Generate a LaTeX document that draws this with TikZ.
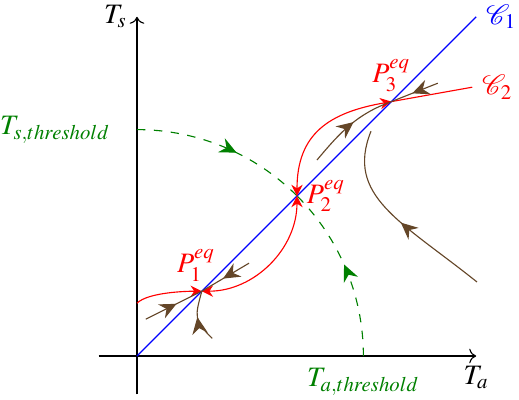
\documentclass[tikz,border=0pt]{standalone}
\usepackage{mathptmx}
\usepackage{mathrsfs}
\usepackage{xcolor}
\usepackage{tikz}
\usetikzlibrary{positioning,arrows.meta,decorations.markings,calc}

\definecolor{trajcol}{RGB}{100,70,40}
\definecolor{thrcol}{RGB}{0,128,0}

\begin{document}
\begin{tikzpicture}[
    axis/.style={->,thin,black},
    diag/.style={blue,thin},
    crit/.style={red,thin},
    traj/.style={trajcol,thin},
    thr/.style={thrcol,dashed,thin},
    midarrow/.style={postaction={decorate,decoration={markings,mark=at position #1 with {\arrow{Stealth[length=6pt,width=5.5pt,inset=2pt]}}}}}
]
\useasboundingbox (-1.7125,-0.5375) rectangle (4.775,4.45);

% ============== POINTS ==============
\coordinate (origin) at (0,0);
\coordinate (xstart) at (-0.48,0);
\coordinate (xend) at (4.24,0);
\coordinate (ystart) at (0,-0.48);
\coordinate (yend) at (0,4.24);
\coordinate (cOneEnd) at (4.24,4.24);
\coordinate (cTwoStart) at (0,0.66);
\coordinate (cTwoEnd) at (4.19,3.36);
\coordinate (p1) at (0.81,0.81);
\coordinate (p2) at (2,2);
\coordinate (p3) at (3.18,3.18);
\coordinate (tsThr) at (0,2.83);
\coordinate (taThr) at (2.83,0);

% ============== AXES ==============
\draw[axis] (xstart) -- (xend) node[below] (taLabel) {$T_a$};
\draw[axis] (ystart) -- (yend) node[left] (tsLabel) {$T_s$};

% ============== C1 ==============
\draw[diag] (origin) -- (cOneEnd) node[right] (cOne) {$\mathscr{C}_1$};

% ============== THRESHOLDS ==============
\node[thrcol,left=6pt of tsThr] (tsThrLabel) {$T_{s,threshold}$};
\node[thrcol,below=1pt of taThr] (taThrLabel) {$T_{a,threshold}$};
\draw[thr,midarrow=0.58] (tsThr) arc[start angle=90,end angle=45,radius=2.83];
\draw[thr,midarrow=0.53] (taThr) arc[start angle=0,end angle=45,radius=2.83];

% ============== C2 ==============
\draw[crit,-{Stealth[length=4pt,width=4pt]}] (cTwoStart) to[out=45,in=180,looseness=0.6] (p1);
\draw[crit,{Stealth[length=4pt,width=4pt]}-{Stealth[length=4pt,width=4pt]}] (p1) to[out=0,in=-90] (p2);
\draw[crit,{Stealth[length=4pt,width=4pt]}-{Stealth[length=4pt,width=4pt]}] (p2) to[out=90,in=190,looseness=1.2] (p3);
\draw[crit] (p3) -- (cTwoEnd) node[right] (cTwo) {$\mathscr{C}_2$};

% equilibrium labels
\node[red,above,xshift=-2pt] (p1Label) at (p1) {$P_1^{eq}$};
\node[red,right] (p2Label) at (p2) {$P_2^{eq}$};
\node[red,above] (p3Label) at (p3) {$P_3^{eq}$};

% ============== TRAJECTORIES ==============
\coordinate (a1) at (0.11,0.46);
\coordinate (a2) at (1.4,1.16);
\coordinate (a3) at (0.94,0.22);
\coordinate (a4) at (2.25,2.45);
\coordinate (a5) at (3.76,3.41);
\coordinate (a6) at (4.25,0.925);
\coordinate (a7) at (2.925,2.81);

% around P1
\draw[traj,midarrow=0.55] (a1) -- (p1);
\draw[traj,midarrow=0.55] (a2) -- (p1);
\draw[traj,midarrow=0.5] (a3) to[out=135,in=-105,looseness=1.4] (p1);

% around P3
\draw[traj,midarrow=0.55] (a4) to[out=50,in=200] (p3);
\draw[traj,midarrow=0.55] (a5) -- (p3);

% turning back
\draw[traj,midarrow=0.48] (a6) .. controls (3.3,1.685) and (2.6,2.0) .. (a7);

\end{tikzpicture}
\end{document}
